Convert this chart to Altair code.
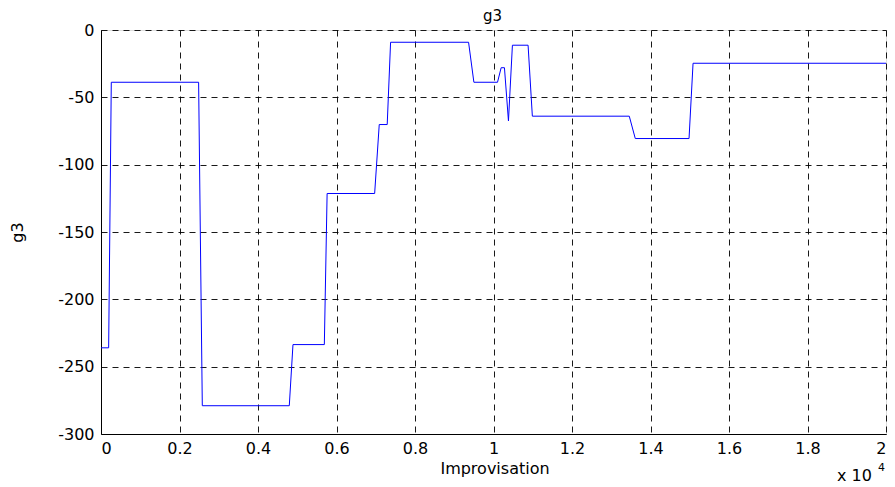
import altair as alt
import pandas as pd

# Improvisation (iteration) and g3 value at each breakpoint of the trace
improvisation = [0, 195, 262, 2487, 2581, 4797, 4891, 5690, 5761, 6972, 7089, 7292,
                 7378, 9365, 9500, 10102, 10195, 10279, 10381, 10482, 10881, 10990,
                 13459, 13612, 14982, 15084, 20000]
g3 = [-236, -236, -38.8, -38.8, -279, -279, -233.6, -233.6, -121.4, -121.4, -70.2, -70.2,
      -9.1, -9.1, -38.8, -38.8, -28, -28, -67.5, -11.3, -11.3, -64,
      -64, -80.6, -80.6, -24.7, -24.7]

x_ticks = list(range(0, 20001, 2000))
y_ticks = list(range(-300, 1, 50))

df = pd.DataFrame({"it": improvisation, "g3": g3})

FONT = "DejaVu Sans"
FS = 16
W, H = 785, 404
LEFT = 93

line = alt.Chart(df).mark_line(color="#0000ff", strokeWidth=1).encode(
    x=alt.X("it:Q", scale=alt.Scale(domain=[0, 20000], nice=False, zero=False),
            axis=alt.Axis(values=x_ticks, title="Improvisation",
                          labelExpr="format(datum.value / 10000, '.1~f')",
                          grid=True, gridDash=[6, 5], gridColor="#000000", gridOpacity=0.9,
                          ticks=False, domainColor="#000000", labelColor="#000000",
                          labelFont=FONT, labelFontSize=FS, labelPadding=6,
                          titleFont=FONT, titleFontSize=FS, titleFontWeight="normal",
                          titleColor="#000000", titleX=W / 2 + 1, titleY=39,
                          titleBaseline="alphabetic", titleAlign="center")),
    y=alt.Y("g3:Q", scale=alt.Scale(domain=[-300, 0], nice=False, zero=False),
            axis=alt.Axis(values=y_ticks, title="g3", labelExpr="'' + datum.value",
                          grid=True, gridDash=[6, 5], gridColor="#000000", gridOpacity=0.9,
                          ticks=False, domainColor="#000000", labelColor="#000000",
                          labelFont=FONT, labelFontSize=FS, labelPadding=7,
                          titleFont=FONT, titleFontSize=FS, titleFontWeight="normal",
                          titleColor="#000000", titleX=-84, titleY=H / 2,
                          titleAngle=270, titleAlign="center", titleBaseline="middle")),
    order="it:Q",
)

title_txt = alt.Chart(pd.DataFrame({"t": ["g3"]})).mark_text(
    font=FONT, fontSize=15, align="center", baseline="alphabetic", color="#000000"
).encode(x=alt.value(W / 2 - 1), y=alt.value(-9), text="t:N")

exp_base = alt.Chart(pd.DataFrame({"t": ["x 10"]})).mark_text(
    font=FONT, fontSize=FS, align="left", baseline="alphabetic", color="#000000"
).encode(x=alt.value(736), y=alt.value(451), text="t:N")

exp_sup = alt.Chart(pd.DataFrame({"t": ["4"]})).mark_text(
    font=FONT, fontSize=11, align="left", baseline="alphabetic", color="#000000"
).encode(x=alt.value(777), y=alt.value(441), text="t:N")

chart = alt.layer(line, title_txt, exp_base, exp_sup).properties(
    width=W, height=H,
    autosize=alt.AutoSizeParams(type="none"),
    padding={"left": LEFT, "top": 22, "right": 879 - LEFT - W, "bottom": 50},
).configure_view(stroke="#000000", strokeWidth=1).configure(background="#ffffff")

chart.save("out.html", embed_options={"renderer": "svg", "actions": False})
